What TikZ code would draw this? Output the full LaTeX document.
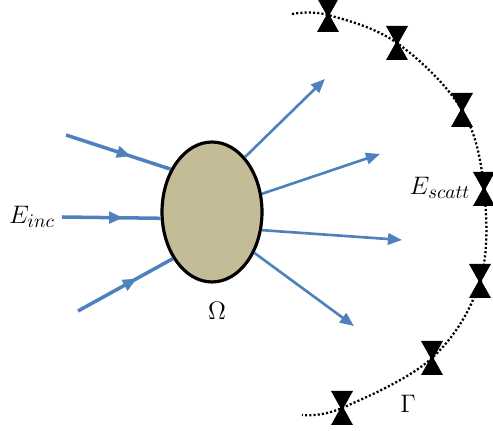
\documentclass[tikz,border=0pt]{standalone}
\usepackage{tikz}
\usetikzlibrary{shapes,arrows.meta,decorations.markings}

\definecolor{khaki}{HTML}{C4BC96}
\definecolor{waveblue}{HTML}{4F81BD}

\begin{document}
\begin{tikzpicture}[
  x=0.02cm, y=-0.02cm,
  body/.style={
    ellipse,
    draw=black,
    line width=1.8pt,
    fill=khaki,
    minimum width=2cm,
    minimum height=2.8cm,
    inner sep=0pt
  },
  incoming/.style={
    color=waveblue,
    line width=2pt,
    postaction={decorate},
    decoration={markings,
      mark=at position 0.62 with {\arrow{Triangle[length=8pt,width=6.5pt]}}}
  },
  scattered/.style={color=waveblue, line width=1.5pt, -{Triangle[length=8pt,width=6.5pt]}},
  boundary/.style={black, line width=1.3pt, dash pattern=on 1.2pt off 1.2pt},
  sensor/.pic={
    \fill[black] (-11,-17) -- (11,-17) -- (2,-1) -- (2,1) -- (11,17) -- (-11,17) -- (-2,1) -- (-2,-1) -- cycle;
  },
  mathtext/.style={font=\fontsize{15}{18}\selectfont}
]
\useasboundingbox (0,0) rectangle (493,431);

% --- SCATTERER ------------------------------------------------------
\node[body] (omega) at (212,212) {};
\node[font=\fontsize{15}{18}\selectfont] (omegalabel) at (217,311) {$\Omega$};

% --- INCIDENT FIELD ------------------------------------------------
\coordinate (in1) at (66,135);
\coordinate (in2) at (62,217);
\coordinate (in3) at (78,311);
\node[mathtext] (einc) at (32,217) {$E_{inc}$};

\draw[incoming] (in1) -- (omega.134);
\draw[incoming] (in2) -- (omega.187);
\draw[incoming] (in3) -- (omega.230);

% --- SCATTERED FIELD -----------------------------------------------
\coordinate (out1) at (325,79);
\coordinate (out2) at (380,154);
\coordinate (out3) at (402,240);
\coordinate (out4) at (354,326);

\draw[scattered] (omega.59) -- (out1);
\draw[scattered] (omega.20) -- (out2);
\draw[scattered] (omega.-20) -- (out3);
\draw[scattered] (omega.-44) -- (out4);

% --- MEASUREMENT CURVE ---------------------------------------------
\draw[boundary] plot[smooth, tension=0.6] coordinates {
  (292,14) (328,15) (397,43) (462,110) (484,189) (480,281) (432,358) (342,408) (302,415)};

\foreach \p [count=\i] in {(328,15),(397,43),(462,110),(484,189),(480,281),(432,358),(342,408)}
  \pic (s\i) at \p {sensor};

\node[mathtext] (escatt) at (440,188) {$E_{scatt}$};
\node[mathtext] (gamma) at (408,404) {$\Gamma$};

\end{tikzpicture}
\end{document}
